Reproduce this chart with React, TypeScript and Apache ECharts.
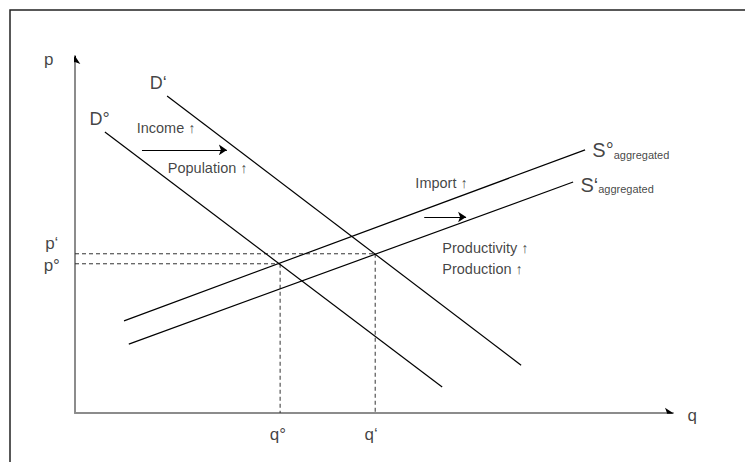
import React, { useEffect, useRef } from "react";
import * as echarts from "echarts";

// Quantity (q) and price (p) in abstract units, 0..100 on both axes
const demandBefore: number[][] = [[5.0, 78.7], [61.4, 7.3]];
const demandAfter: number[][] = [[15.4, 88.8], [74.6, 13.4]];
const supplyBefore: number[][] = [[8.2, 25.8], [85.3, 73.7]];
const supplyAfter: number[][] = [[9.0, 19.3], [83.3, 64.7]];
// equilibrium points [q, p]: before (q°, p°) and after (q‘, p‘)
const equilibria: number[][] = [[34.3, 41.8], [50.2, 44.6]];
// shift arrows: demand shift and supply shift
const shiftArrows: number[][][] = [
  [[11.2, 73.7], [25.4, 73.7]],
  [[58.4, 54.9], [65.4, 54.9]],
];

const curveNames = ["D°", "D‘"];
const supplyNames = ["S°", "S‘"];
const priceTicks = ["p°", "p‘"];
const quantityTicks = ["q°", "q‘"];
const demandShifters = ["Income ↑", "Population ↑"];
const supplyShifters = ["Import ↑", "Productivity ↑", "Production ↑"];

const FONT = "'Liberation Sans', Arial, sans-serif";

export default function App() {
  const ref = useRef<HTMLDivElement>(null);

  useEffect(() => {
    document.body.style.margin = "0";
    if (!ref.current) return;
    const chart = echarts.init(ref.current, undefined, { renderer: "svg" });

    const txt = (value: number[], text: string, size: number, align = "center") => ({
      value,
      label: {
        show: true,
        formatter: text,
        position: [0, 0],
        align,
        verticalAlign: "middle",
        fontSize: size,
        fontFamily: FONT,
        color: "#111",
      },
    });

    const supplyLabel = (value: number[], head: string) => ({
      value,
      label: {
        show: true,
        formatter: `{a|${head}}{b|aggregated}`,
        position: [0, 0],
        align: "left",
        verticalAlign: "middle",
        rich: {
          a: { fontSize: 20, fontFamily: FONT, color: "#111", verticalAlign: "bottom", lineHeight: 22 },
          b: { fontSize: 11, fontFamily: FONT, color: "#111", verticalAlign: "bottom", lineHeight: 22 },
        },
      },
    });

    const [e0, e1] = equilibria;

    const labelData = [
      txt([-4.3, 98.9], "p", 17),
      txt([103.3, -0.8], "q", 17),
      txt([-3.8, 41.2], priceTicks[0], 17),
      txt([-3.8, 47.3], priceTicks[1], 17),
      txt([e0[0] - 0.3, -6.2], quantityTicks[0], 17),
      txt([e1[0] - 0.6, -6.2], quantityTicks[1], 17),
      txt([4.2, 82.1], curveNames[0], 18),
      txt([14.0, 92.2], curveNames[1], 18),
      supplyLabel([86.6, 73.7], supplyNames[0]),
      supplyLabel([84.6, 64.1], supplyNames[1]),
      txt([10.4, 79.6], demandShifters[0], 14.5, "left"),
      txt([15.6, 68.6], demandShifters[1], 14.5, "left"),
      txt([57.0, 64.4], supplyShifters[0], 14.5, "left"),
      txt([61.5, 46.2], supplyShifters[1], 14.5, "left"),
      txt([61.5, 40.1], supplyShifters[2], 14.5, "left"),
    ];

    const solid = (data: number[][]) => ({
      type: "line",
      data,
      symbol: "none",
      silent: true,
      lineStyle: { color: "#000", width: 1.2 },
    });
    const dashed = (data: number[][]) => ({
      type: "line",
      data,
      symbol: "none",
      silent: true,
      lineStyle: { color: "#333", width: 1, type: [4, 3] },
    });

    const axisLineStyle = {
      show: true,
      onZero: false,
      lineStyle: { color: "#8c8c8c", width: 2 },
    };

    chart.setOption({
      animation: false,
      grid: { left: 75, top: 56, right: 72, bottom: 49, containLabel: false },
      xAxis: {
        type: "value",
        min: 0,
        max: 100,
        axisLine: axisLineStyle,
        axisTick: { show: false },
        axisLabel: { show: false },
        splitLine: { show: false },
      },
      yAxis: {
        type: "value",
        min: 0,
        max: 100,
        axisLine: axisLineStyle,
        axisTick: { show: false },
        axisLabel: { show: false },
        splitLine: { show: false },
      },
      graphic: [
        {
          type: "rect",
          shape: { x: 10, y: 10, width: 800, height: 520 },
          style: { fill: "none", stroke: "#222", lineWidth: 1.5 },
          silent: true,
          z: -1,
        },
      ],
      series: [
        dashed([[0, e0[1]], [e0[0], e0[1]]]),
        dashed([[e0[0], e0[1]], [e0[0], 0]]),
        dashed([[0, e1[1]], [e1[0], e1[1]]]),
        dashed([[e1[0], e1[1]], [e1[0], 0]]),
        solid(demandBefore),
        solid(demandAfter),
        solid(supplyBefore),
        solid(supplyAfter),
        {
          type: "lines",
          coordinateSystem: "cartesian2d",
          silent: true,
          symbol: ["none", "arrow"],
          symbolSize: 8,
          lineStyle: { color: "#000", width: 1.2, opacity: 1 },
          data: shiftArrows.map((c) => ({ coords: c })),
        },
        {
          type: "lines",
          coordinateSystem: "cartesian2d",
          silent: true,
          symbol: ["none", "arrow"],
          symbolSize: 8,
          lineStyle: { color: "#000", width: 1, opacity: 1 },
          data: [
            { coords: [[99, 0], [100, 0]] },
            { coords: [[0, 98.5], [0, 100]] },
          ],
        },
        {
          type: "scatter",
          clip: false,
          silent: true,
          symbol: "circle",
          symbolSize: 1,
          itemStyle: { color: "rgba(0,0,0,0)" },
          data: labelData,
        },
      ],
    });

    return () => chart.dispose();
  }, []);

  return <div ref={ref} style={{ width: 745, height: 462 }} />;
}
